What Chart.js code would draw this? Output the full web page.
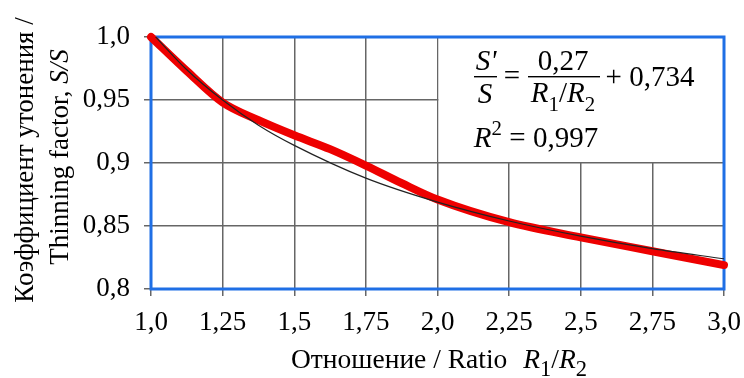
<!DOCTYPE html>
<html lang="ru">
<head>
    <meta charset="UTF-8">
    <title>Thinning factor vs ratio</title>
    <script src="https://cdn.jsdelivr.net/npm/chart.js"></script>
    <style>
        body { margin: 0; background: #fff; }
        #wrap { width: 744px; height: 378px; }
    </style>
</head>
<body>
    <div id="wrap"><canvas id="chart" width="744" height="378"></canvas></div>

    <script>
        // data
        const ratioMeasured = [1.0, 1.125, 1.25, 1.375, 1.5, 1.625, 1.75, 1.875, 2.0, 2.25, 2.5, 2.75, 3.0];
        const thinningMeasured = [1.0, 0.973, 0.948, 0.934, 0.922, 0.911, 0.898, 0.884, 0.871, 0.853, 0.841, 0.830, 0.819];

        const ratioFit = [1.0, 1.125, 1.25, 1.375, 1.5, 1.75, 2.0, 2.25, 2.5, 2.75, 3.0];
        const thinningFit = [1.004, 0.974, 0.950, 0.930, 0.914, 0.888, 0.869, 0.854, 0.842, 0.832, 0.824];

        const xTickLabels = ['1,0', '1,25', '1,5', '1,75', '2,0', '2,25', '2,5', '2,75', '3,0'];
        const yTickLabels = ['0,8', '0,85', '0,9', '0,95', '1,0'];

        const FONT = '"Liberation Serif", "Times New Roman", serif';
        const BLUE = '#1f6fe5';

        // draw a row of text pieces (italic / sub / sup) centred on cx
        function drawRuns(ctx, runs, cx, baseY, size) {
            const small = r => size * (r.scale || 0.72);
            let widths = runs.map(r => {
                const s = r.sub || r.sup ? small(r) : size;
                ctx.font = (r.italic ? 'italic ' : '') + s + 'px ' + FONT;
                return ctx.measureText(r.t).width + (r.gap || 0);
            });
            let total = widths.reduce((a, b) => a + b, 0);
            let x = cx - total / 2;
            runs.forEach((r, i) => {
                const s = r.sub || r.sup ? small(r) : size;
                ctx.font = (r.italic ? 'italic ' : '') + s + 'px ' + FONT;
                let y = baseY;
                if (r.sub) y += size * 0.3;
                if (r.sup) y -= size * 0.42;
                ctx.fillText(r.t, x, y);
                x += widths[i];
            });
            return total;
        }

        const equationBox = {
            id: 'equationBox',
            beforeDatasetsDraw(chart) {
                const { ctx, chartArea: a, scales: { x, y } } = chart;
                ctx.save();
                ctx.fillStyle = '#fff';
                const l = x.getPixelForValue(2.0), r = x.getPixelForValue(3.0);
                const t = y.getPixelForValue(1.0), b = y.getPixelForValue(0.9);
                ctx.fillRect(l + 1, t, r - l, b - t - 1);
                // blue frame, under the curves
                ctx.strokeStyle = BLUE;
                ctx.lineWidth = 3;
                ctx.strokeRect(a.left, a.top, a.right - a.left, a.bottom - a.top);
                ctx.restore();
            },
            afterDraw(chart) {
                const { ctx } = chart;
                ctx.save();
                ctx.fillStyle = '#000';
                ctx.textBaseline = 'alphabetic';
                ctx.textAlign = 'left';
                const size = 29;

                // S'/S
                drawRuns(ctx, [{ t: "S'", italic: true }], 486, 70, size);
                drawRuns(ctx, [{ t: 'S', italic: true }], 485, 103, size);
                ctx.fillRect(474, 76, 23, 1.4);
                drawRuns(ctx, [{ t: '=' }], 512, 85, size);
                // 0,27 / (R1/R2)
                drawRuns(ctx, [{ t: '0,27' }], 563, 70, size);
                ctx.fillRect(528, 76, 72, 1.4);
                drawRuns(ctx, [
                    { t: 'R', italic: true }, { t: '1', sub: true },
                    { t: '/' }, { t: 'R', italic: true }, { t: '2', sub: true }
                ], 563, 102, size);
                drawRuns(ctx, [{ t: '+ 0,734' }], 650, 86, size);
                // R^2
                drawRuns(ctx, [
                    { t: 'R', italic: true }, { t: '2', sup: true }, { t: ' = 0,997' }
                ], 536, 147, size);

                // x title
                drawRuns(ctx, [
                    { t: 'Отношение / Ratio', gap: 16 },
                    { t: 'R', italic: true }, { t: '1', sub: true, scale: 0.82 },
                    { t: '/' }, { t: 'R', italic: true }, { t: '2', sub: true, scale: 0.82 }
                ], 439, 368, 27.5);

                // y title (rotated)
                ctx.save();
                ctx.translate(33, 160);
                ctx.rotate(-Math.PI / 2);
                drawRuns(ctx, [{ t: 'Коэффициент утонения /' }], 0, 0, 27);
                drawRuns(ctx, [
                    { t: 'Thinning factor, ' }, { t: 'S/S', italic: true }
                ], 3, 35, 27);
                ctx.restore();
                ctx.restore();
            }
        };

        new Chart(document.getElementById('chart'), {
            type: 'scatter',
            data: {
                datasets: [
                    {
                        label: 'fit',
                        data: ratioFit.map((v, i) => ({ x: v, y: thinningFit[i] })),
                        showLine: true,
                        borderColor: '#222',
                        borderWidth: 1.2,
                        pointRadius: 0,
                        cubicInterpolationMode: 'monotone',
                        order: 1
                    },
                    {
                        label: 'measured',
                        data: ratioMeasured.map((v, i) => ({ x: v, y: thinningMeasured[i] })),
                        showLine: true,
                        borderColor: '#ee0000',
                        borderWidth: 8,
                        borderCapStyle: 'round',
                        pointRadius: 0,
                        cubicInterpolationMode: 'monotone',
                        clip: 6,
                        order: 2
                    }
                ]
            },
            options: {
                responsive: false,
                animation: false,
                layout: { padding: { top: 37, right: 20, left: 0, bottom: 0 } },
                plugins: {
                    legend: { display: false },
                    tooltip: { enabled: false }
                },
                scales: {
                    x: {
                        type: 'linear',
                        min: 1.0,
                        max: 3.0,
                        afterFit(s) { s.height = 89; s.paddingRight = 0; s.paddingLeft = 0; },
                        afterBuildTicks(s) {
                            s.ticks = xTickLabels.map((_, i) => ({ value: 1 + i * 0.25 }));
                        },
                        border: { display: false },
                        grid: { color: '#666', lineWidth: 1.5, tickLength: 7 },
                        ticks: {
                            color: '#000',
                            padding: 11,
                            maxRotation: 0,
                            font: { family: FONT, size: 27 },
                            callback: (v, i) => xTickLabels[i]
                        }
                    },
                    y: {
                        min: 0.8,
                        max: 1.0,
                        afterFit(s) { s.width = 151; s.paddingTop = 0; s.paddingBottom = 0; },
                        afterBuildTicks(s) {
                            s.ticks = yTickLabels.map((_, i) => ({ value: 0.8 + i * 0.05 }));
                        },
                        border: { display: false },
                        grid: { color: '#666', lineWidth: 1.5, tickLength: 7 },
                        ticks: {
                            color: '#000',
                            padding: 14,
                            font: { family: FONT, size: 27 },
                            callback: (v, i) => yTickLabels[i]
                        }
                    }
                }
            },
            plugins: [equationBox]
        });
    </script>
</body>
</html>
